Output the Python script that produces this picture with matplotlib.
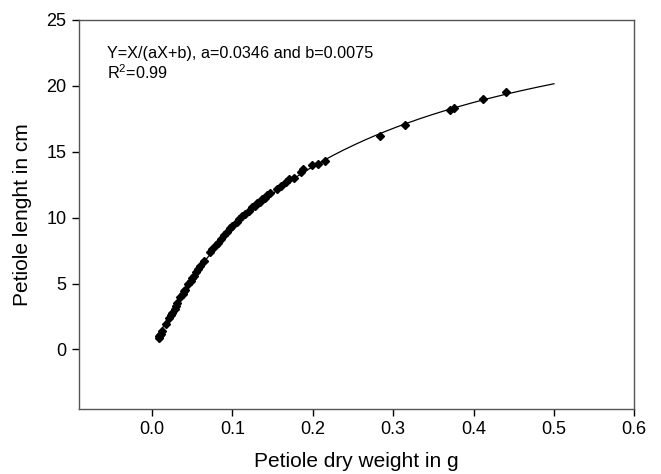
import numpy as np
import matplotlib
matplotlib.use("Agg")
import matplotlib.pyplot as plt

plt.rcParams['font.family'] = ['Liberation Sans', 'DejaVu Sans']
plt.rcParams['mathtext.default'] = 'regular'

# measured points (dry weight g, petiole length cm)
peso = [0.008, 0.009, 0.010, 0.011, 0.012, 0.017, 0.021, 0.023, 0.025, 0.028,
        0.030, 0.031, 0.035, 0.038, 0.040, 0.041, 0.045, 0.048, 0.050, 0.052,
        0.055, 0.057, 0.059, 0.065, 0.072, 0.075, 0.079, 0.082, 0.086, 0.090,
        0.093, 0.097, 0.100, 0.105, 0.108, 0.112, 0.115, 0.120, 0.124, 0.128,
        0.131, 0.134, 0.137, 0.140, 0.143, 0.147, 0.155, 0.160, 0.167, 0.170,
        0.176, 0.185, 0.188, 0.199, 0.207, 0.215, 0.283, 0.315, 0.371, 0.376,
        0.412, 0.440]
largo = [0.9, 1.0, 1.1, 1.2, 1.4, 1.9, 2.4, 2.6, 2.8, 3.1,
         3.3, 3.5, 4.0, 4.2, 4.4, 4.5, 5.0, 5.2, 5.4, 5.6,
         5.9, 6.1, 6.3, 6.7, 7.4, 7.6, 7.9, 8.1, 8.4, 8.7,
         8.9, 9.2, 9.4, 9.7, 9.9, 10.1, 10.3, 10.5, 10.8, 10.9,
         11.1, 11.2, 11.4, 11.5, 11.7, 11.9, 12.2, 12.4, 12.7, 12.9,
         13.0, 13.5, 13.7, 14.0, 14.1, 14.3, 16.2, 17.0, 18.2, 18.3,
         19.0, 19.5]

# ajuste Y = X/(aX+b)
a = 0.0346
b = 0.0075
x_fit = np.linspace(0.006, 0.5, 300)
y_fit = x_fit / (a * x_fit + b)

fig = plt.figure(figsize=(6.61, 4.74), dpi=100)
ax = fig.add_axes([79 / 661, 1 - 408.7 / 474, (634.3 - 79) / 661, (408.7 - 20) / 474])

ax.plot(x_fit, y_fit, color='black', linewidth=0.9)
ax.plot(peso, largo, 'D', color='black', markersize=3.8)

ax.set_xlim(-0.091, 0.6)
ax.set_ylim(-4.5, 25)
ax.set_xticks([0.0, 0.1, 0.2, 0.3, 0.4, 0.5, 0.6])
ax.set_xticklabels(["0.0", "0.1", "0.2", "0.3", "0.4", "0.5", "0.6"])
ax.set_yticks([0, 5, 10, 15, 20, 25])

for s in ax.spines.values():
    s.set_color('#555555')
    s.set_linewidth(1.0)
ax.tick_params(direction='out', length=5, width=1, colors='black', labelsize=13, pad=4)

ax.set_xlabel("Petiole dry weight in g", fontsize=15, labelpad=10)
ax.set_ylabel("Petiole lenght in cm", fontsize=15, labelpad=10)

ax.text(-0.056, 23.0, "Y=X/(aX+b), a=0.0346 and b=0.0075\nR$^2$=0.99",
        fontsize=11.7, va='top', ha='left', linespacing=1.15)

fig.savefig("out.png", dpi=100)
